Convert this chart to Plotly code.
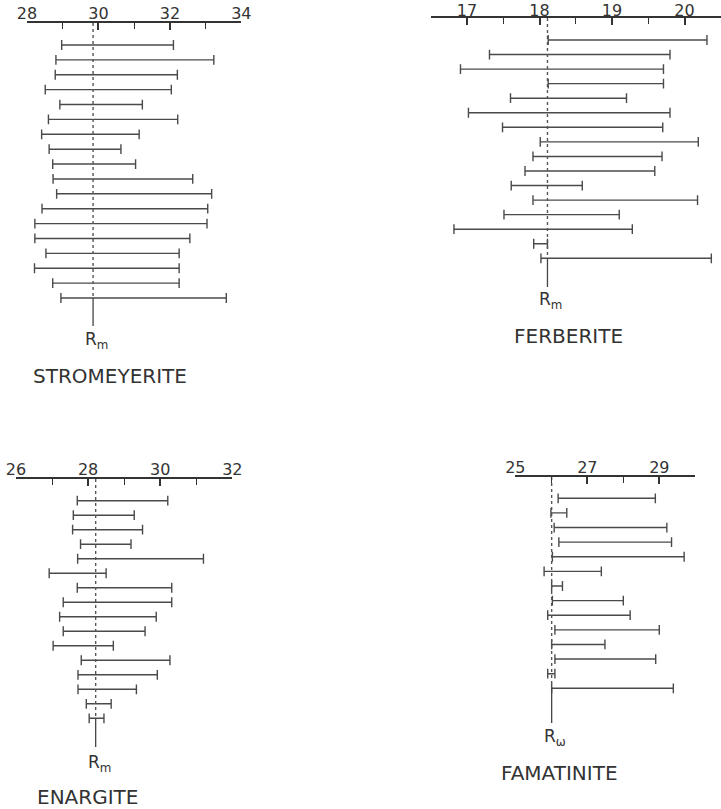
import plotly.graph_objects as go

W, H = 721, 809

# ---------------- data ----------------
minerals = ["STROMEYERITE", "FERBERITE", "ENARGITE", "FAMATINITE"]
ref_labels = ["R<sub>m</sub>", "R<sub>m</sub>", "R<sub>m</sub>", "R<sub>ω</sub>"]
ref_values = [29.85, 18.11, 28.21, 26.01]

strom_lo = [28.97, 28.81, 28.79, 28.51, 28.92, 28.60, 28.41, 28.62, 28.72,
            28.73, 28.83, 28.42, 28.22, 28.22, 28.53, 28.21, 28.72, 28.95]
strom_hi = [32.10, 33.23, 32.21, 32.04, 31.23, 32.22, 31.14, 30.63, 31.04,
            32.64, 33.17, 33.06, 33.04, 32.56, 32.26, 32.26, 32.26, 33.58]

ferb_lo = [18.12, 17.31, 16.91, 18.12, 17.60, 17.02, 17.49, 18.01,
           17.91, 17.80, 17.61, 17.91, 17.51, 16.82, 17.92, 18.02]
ferb_hi = [20.31, 19.80, 19.71, 19.71, 19.20, 19.80, 19.70, 20.19,
           19.69, 19.59, 18.59, 20.18, 19.10, 19.28, 18.11, 20.37]

enar_lo = [27.70, 27.59, 27.57, 27.79, 27.71, 26.92, 27.70, 27.31,
           27.21, 27.31, 27.03, 27.81, 27.72, 27.72, 27.95, 28.03]
enar_hi = [30.21, 29.28, 29.51, 29.19, 31.20, 28.50, 30.32, 30.32,
           29.89, 29.58, 28.70, 30.27, 29.92, 29.34, 28.64, 28.44]

fama_lo = [26.19, 25.99, 26.08, 26.21, 26.03, 25.80, 26.01,
           26.03, 25.90, 26.10, 26.01, 26.10, 25.90, 26.01]
fama_hi = [28.89, 26.43, 29.21, 29.34, 29.69, 27.39, 26.31,
           28.00, 28.19, 29.00, 27.49, 28.90, 26.10, 29.39]

x_ranges = [[28, 34], [16.5, 20.5], [26, 32], [25, 30]]
major_tick0 = [28, 17, 26, 25]
major_dtick = [2, 1, 2, 2]
minor_tick0 = [28, 16.5, 26, 25]
minor_dtick = [1, 0.5, 1, 1]

series = [(strom_lo, strom_hi), (ferb_lo, ferb_hi), (enar_lo, enar_hi), (fama_lo, fama_hi)]

# ---------------- layout (pixels) ----------------
px_x = [(27, 241.3), (430.75, 720.75), (16, 232.3), (515.3, 695.3)]
axis_y = [23, 18, 479, 477]
row0 = [45, 40, 500.7, 498.3]
row_end = [298, 258.3, 718.3, 688.3]
solid_end = [326, 287, 747, 723]
ref_label_y = [341, 300, 763, 737]
name_y = [376, 336, 797, 773]
name_x = [110, 568, 87, 559]
label_standoff = [-4, -6, -4, -4]

INK = "#4a4a4a"
FONT = "DejaVu Sans"

fig = go.Figure()
annotations = []

for k in range(4):
    lo, hi = series[k]
    n = len(lo)
    sp = (row_end[k] - row0[k]) / (n - 1)
    top_pix = axis_y[k]
    bot_pix = solid_end[k] + 4
    y_top = (top_pix - row0[k]) / sp
    y_bot = (bot_pix - row0[k]) / sp
    ax = "" if k == 0 else str(k + 1)
    xref, yref = "x" + ax, "y" + ax

    xs, ys = [], []
    for i in range(n):
        xs += [lo[i], hi[i], None]
        ys += [i, i, None]
    fig.add_trace(go.Scatter(x=xs, y=ys, mode="lines",
                             line=dict(color=INK, width=1.4),
                             xaxis=xref, yaxis=yref, showlegend=False,
                             hoverinfo="skip"))
    fig.add_trace(go.Scatter(x=list(lo) + list(hi), y=list(range(n)) * 2, mode="markers",
                             marker=dict(symbol="line-ns", size=7,
                                         line=dict(color=INK, width=1.4)),
                             xaxis=xref, yaxis=yref, showlegend=False,
                             hoverinfo="skip"))
    r = ref_values[k]
    fig.add_trace(go.Scatter(x=[r, r], y=[y_top, n - 1], mode="lines",
                             line=dict(color="#555555", width=1.4, dash="3px,3px"),
                             xaxis=xref, yaxis=yref, showlegend=False, hoverinfo="skip"))
    y_solid = (solid_end[k] - row0[k]) / sp
    fig.add_trace(go.Scatter(x=[r, r], y=[n - 1, y_solid], mode="lines",
                             line=dict(color="#444444", width=1.3),
                             xaxis=xref, yaxis=yref, showlegend=False, hoverinfo="skip"))

    xdom = [px_x[k][0] / W, min(px_x[k][1] / W, 1.0)]
    ydom = [1 - bot_pix / H, 1 - top_pix / H]
    xa = dict(domain=xdom, range=x_ranges[k], side="top", anchor=yref,
              automargin=False,
              showline=True, linecolor="#333333", linewidth=1.5,
              showgrid=False, zeroline=False,
              ticks="inside", ticklen=7, tickwidth=1.5, tickcolor="#333333",
              tickmode="linear", tick0=major_tick0[k], dtick=major_dtick[k],
              tickfont=dict(family=FONT, size=16, color="#333333"),
              ticklabelstandoff=label_standoff[k],
              minor=dict(ticks="inside", ticklen=6, tickwidth=1.3, tickcolor="#333333",
                         tickmode="linear", tick0=minor_tick0[k], dtick=minor_dtick[k],
                         showgrid=False),
              fixedrange=True)
    ya = dict(domain=ydom, range=[y_bot, y_top], visible=False, anchor=xref,
              automargin=False, fixedrange=True)
    fig.update_layout(**{"xaxis" + ax: xa, "yaxis" + ax: ya})

    annotations.append(dict(x=r, y=1 - ref_label_y[k] / H, xref=xref, yref="paper",
                            text=ref_labels[k], showarrow=False, xanchor="left",
                            xshift=-10, yanchor="middle",
                            font=dict(family=FONT, size=17, color="#333333")))
    annotations.append(dict(x=name_x[k] / W, y=1 - name_y[k] / H, xref="paper", yref="paper",
                            text=minerals[k], showarrow=False, xanchor="center",
                            yanchor="middle",
                            font=dict(family=FONT, size=20, color="#333333")))

fig.update_layout(width=W, height=H, margin=dict(l=0, r=0, t=0, b=0, autoexpand=False),
                  paper_bgcolor="white", plot_bgcolor="white",
                  annotations=annotations, showlegend=False)

fig.write_html("out.html", config={"displayModeBar": False},
               post_script="document.body.style.margin='0';document.body.style.overflow='hidden';")
